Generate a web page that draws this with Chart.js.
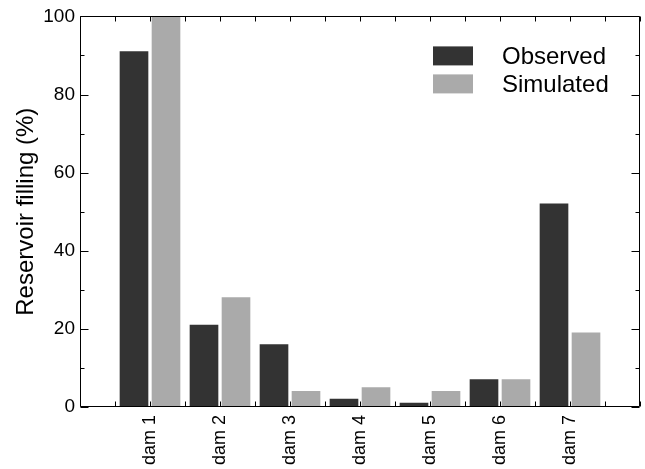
<!DOCTYPE html>
<html>
<head>
<meta charset="utf-8">
<script src="https://cdn.jsdelivr.net/npm/chart.js@4"></script>
<style>
  html, body { margin: 0; padding: 0; background: #fff; }
  #wrap { width: 645px; height: 469px; }
</style>
</head>
<body>
<div id="wrap"><canvas id="chart"></canvas></div>
<script>
const dams = ['dam 1', 'dam 2', 'dam 3', 'dam 4', 'dam 5', 'dam 6', 'dam 7'];
const observed = [91, 21, 16, 2, 1, 7, 52];
const simulated = [100, 28, 4, 5, 4, 7, 19];
const yMajorTicks = [0, 20, 40, 60, 80, 100];

const fontFamily = '"Liberation Sans", Arial, Helvetica, sans-serif';

// bars sit on x = 1..7, axis runs 0..8
const obsPoints = observed.map((v, i) => ({ x: i + 1, y: v }));
const simPoints = simulated.map((v, i) => ({ x: i + 1, y: v }));

// frame + inward ticks on all four sides
const frameTicks = {
  id: 'frameTicks',
  afterDraw(chart) {
    const ctx = chart.ctx;
    const a = chart.chartArea;
    const xs = chart.scales.x, ys = chart.scales.y;
    ctx.save();
    ctx.strokeStyle = '#000';
    ctx.lineWidth = 1;
    const L = Math.round(a.left) + 0.5, R = Math.round(a.right) - 0.5;
    const T = Math.round(a.top) + 0.5, B = Math.round(a.bottom) - 0.5;
    ctx.beginPath();
    ctx.rect(L, T, R - L, B - T);
    ctx.stroke();
    ctx.beginPath();
    ys.ticks.forEach(t => {
      const y = Math.round(ys.getPixelForValue(t.value)) + 0.5;
      const len = yMajorTicks.includes(t.value) ? 8 : 4;
      ctx.moveTo(L, y); ctx.lineTo(L + len, y);
      ctx.moveTo(R, y); ctx.lineTo(R - len, y);
    });
    xs.ticks.forEach(t => {
      const x = Math.round(xs.getPixelForValue(t.value)) + 0.5;
      ctx.moveTo(x, B); ctx.lineTo(x, B - 5);
      ctx.moveTo(x, T); ctx.lineTo(x, T + 5);
    });
    ctx.stroke();
    ctx.restore();
  }
};

// legend boxes in the upper right of the plot
const boxLegend = {
  id: 'boxLegend',
  afterDraw(chart) {
    const ctx = chart.ctx;
    const a = chart.chartArea;
    ctx.save();
    ctx.font = '24px ' + fontFamily;
    ctx.textBaseline = 'middle';
    chart.data.datasets.forEach((ds, i) => {
      const bx = a.left + 353, by = a.top + 30 + i * 28;
      ctx.fillStyle = ds.backgroundColor;
      ctx.fillRect(bx, by, 40, 19);
      ctx.fillStyle = '#000';
      ctx.fillText(ds.label, bx + 69, by + 11);
    });
    ctx.restore();
  }
};

new Chart(document.getElementById('chart'), {
  type: 'bar',
  data: {
    datasets: [
      { label: 'Observed', data: obsPoints, backgroundColor: '#333333', borderWidth: 0 },
      { label: 'Simulated', data: simPoints, backgroundColor: '#aaaaaa', borderWidth: 0 }
    ]
  },
  options: {
    responsive: true,
    maintainAspectRatio: false,
    animation: false,
    layout: { padding: { top: 13, right: 5, left: 0, bottom: 0 } },
    datasets: { bar: { barThickness: 32, maxBarThickness: 28 } },
    plugins: { legend: { display: false }, tooltip: { enabled: false } },
    scales: {
      x: {
        type: 'linear',
        min: 0,
        max: 8,
        offset: false,
        grid: { display: false, drawTicks: false },
        border: { display: false },
        afterFit(scale) {
          scale.height = 62;
          scale.paddingLeft = 0;
          scale.paddingRight = 0;
        },
        ticks: {
          stepSize: 0.5,
          autoSkip: false,
          minRotation: 90,
          maxRotation: 90,
          padding: 8,
          color: '#000',
          font: { family: fontFamily, size: 18 },
          callback(v) {
            return Number.isInteger(v) && v >= 1 && v <= dams.length ? dams[v - 1] : '';
          }
        }
      },
      y: {
        min: 0,
        max: 100,
        grid: { display: false, drawTicks: false },
        border: { display: false },
        afterFit(scale) { scale.width = 80; },
        title: {
          display: true,
          text: 'Reservoir filling (%)',
          color: '#000',
          font: { family: fontFamily, size: 24 },
          padding: { top: 12, bottom: 0 }
        },
        ticks: {
          stepSize: 5,
          padding: 5,
          color: '#000',
          font: { family: fontFamily, size: 19 },
          callback(v) { return yMajorTicks.includes(v) ? v : ''; }
        }
      }
    }
  },
  plugins: [frameTicks, boxLegend]
});
</script>
</body>
</html>
